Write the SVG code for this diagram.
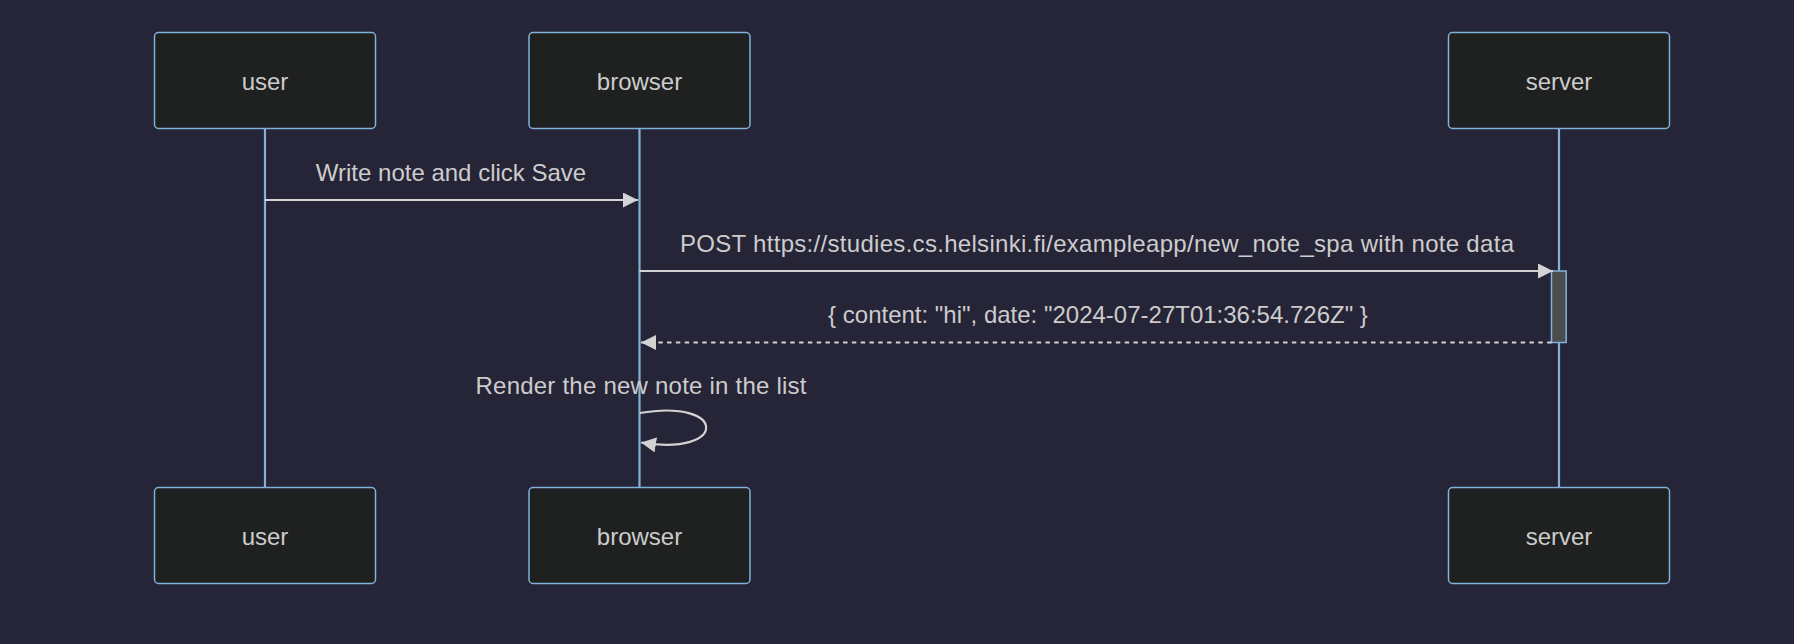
<svg xmlns="http://www.w3.org/2000/svg" width="1794" height="644" viewBox="0 0 1794 644">
<defs>
<style>
.bg{fill:#262437}
.actor{fill:#1f2020;stroke:#81b1db;stroke-width:1.5}
.life{stroke:#81b1db;stroke-width:2.2}
.lbl{font-family:"Liberation Sans",Arial,sans-serif;font-size:24px;fill:#cccccc;text-anchor:middle}
.msg{stroke:#d3d3d3;stroke-width:2.2;fill:none}
.dash{stroke-dasharray:4.4 4.4}
.act{fill:#4a4d4d;stroke:#81b1db;stroke-width:1.5}
</style>
<marker id="arrow" viewBox="0 0 10 10" refX="10" refY="5" markerWidth="15" markerHeight="15" markerUnits="userSpaceOnUse" orient="auto">
<path d="M0,0 L10,5 L0,10 z" fill="#d3d3d3"/>
</marker>
</defs>
<rect class="bg" x="0" y="0" width="1794" height="644"/>
<g id="lifelines">
<line class="life" x1="265" y1="128" x2="265" y2="487"/>
<line class="life" x1="639.5" y1="128" x2="639.5" y2="487"/>
<line class="life" x1="1559" y1="128" x2="1559" y2="487"/>
</g>
<g id="user">
<rect class="actor" x="154.5" y="32.5" width="221" height="96" rx="4"/>
<text class="lbl" x="265" y="90">user</text>
</g>
<g id="browser">
<rect class="actor" x="529" y="32.5" width="221" height="96" rx="4"/>
<text class="lbl" x="639.5" y="90">browser</text>
</g>
<g id="server">
<rect class="actor" x="1448.5" y="32.5" width="221" height="96" rx="4"/>
<text class="lbl" x="1559" y="90">server</text>
</g>
<g id="user-bottom">
<rect class="actor" x="154.5" y="487.5" width="221" height="96" rx="4"/>
<text class="lbl" x="265" y="545">user</text>
</g>
<g id="browser-bottom">
<rect class="actor" x="529" y="487.5" width="221" height="96" rx="4"/>
<text class="lbl" x="639.5" y="545">browser</text>
</g>
<g id="server-bottom">
<rect class="actor" x="1448.5" y="487.5" width="221" height="96" rx="4"/>
<text class="lbl" x="1559" y="545">server</text>
</g>
<g id="activation">
<rect class="act" x="1551.5" y="271" width="14.7" height="71.5"/>
</g>
<g id="connectors">
<text class="lbl" x="451" y="181">Write note and click Save</text>
<line class="msg" x1="265" y1="200" x2="638" y2="200" marker-end="url(#arrow)"/>
<text class="lbl" x="1097" y="252" textLength="834" lengthAdjust="spacing">POST https://studies.cs.helsinki.fi/exampleapp/new_note_spa with note data</text>
<line class="msg" x1="639.5" y1="271" x2="1553" y2="271" marker-end="url(#arrow)"/>
<text class="lbl" x="1098" y="323">{ content: "hi", date: "2024-07-27T01:36:54.726Z" }</text>
<line class="msg dash" x1="1551.5" y1="342.5" x2="641" y2="342.5" marker-end="url(#arrow)"/>
<text class="lbl" x="641" y="394" textLength="331" lengthAdjust="spacing">Render the new note in the list</text>
<path class="msg" d="M640,413 C728,398 728,457 641,442.5" marker-end="url(#arrow)"/>
</g>
</svg>
